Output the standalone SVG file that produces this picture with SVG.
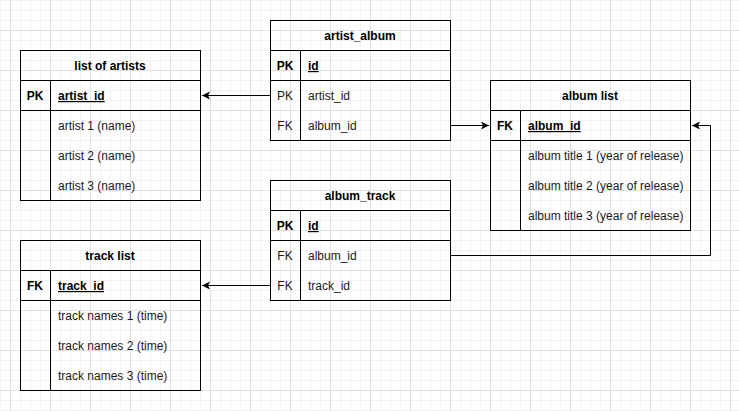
<svg xmlns="http://www.w3.org/2000/svg" width="739" height="411" viewBox="0 0 739 411">
<style>
  .box{fill:none;stroke:#000;stroke-width:1}
  .t{font-family:"Liberation Sans",Arial,sans-serif;font-size:12px;fill:#1a1a1a}
  .title{font-weight:bold;text-anchor:middle;fill:#000}
  .key{text-anchor:middle}
  .b{font-weight:bold;fill:#000}
  .u{text-decoration:underline}
  .edge{fill:none;stroke:#000;stroke-width:1}
</style>
<defs>
  <pattern id="minor" width="10" height="10" patternUnits="userSpaceOnUse">
    <path d="M0.5 0V10M0 0.5H10" fill="none" stroke="#f2f2f2" stroke-width="1"/>
  </pattern>
  <pattern id="major" x="10" y="30" width="40" height="40" patternUnits="userSpaceOnUse">
    <path d="M0.5 0V40M0 0.5H40" fill="none" stroke="#e0e0e0" stroke-width="1"/>
  </pattern>
  <marker id="arr" markerWidth="10" markerHeight="10" refX="8" refY="4" orient="auto" markerUnits="userSpaceOnUse">
    <path d="M0 0L8 4L0 8L2 4Z" fill="#000"/>
  </marker>
</defs>
<rect width="739" height="411" fill="#fff"/>
<rect width="739" height="411" fill="url(#minor)"/>
<rect width="739" height="411" fill="url(#major)"/>

<g id="connectors">
  <path class="edge" d="M270 95.5H202" marker-end="url(#arr)"/>
  <path class="edge" d="M450 125.5H489" marker-end="url(#arr)"/>
  <path class="edge" d="M450 255.5H710.5V125.5H692" marker-end="url(#arr)"/>
  <path class="edge" d="M270 285.5H202" marker-end="url(#arr)"/>
</g>

<g id="list-of-artists">
  <rect class="box" x="20.5" y="50.5" width="180" height="150"/>
  <path class="box" d="M20.5 80.5H200.5M20.5 110.5H200.5M50.5 80.5V200.5"/>
  <text class="t title" x="110" y="70">list of artists</text>
  <text class="t key b" x="35" y="100">PK</text>
  <text class="t b u" x="58" y="100">artist_id</text>
  <text class="t" x="58" y="160" dy="-30">artist 1 (name)</text>
  <text class="t" x="58" y="160">artist 2 (name)</text>
  <text class="t" x="58" y="190">artist 3 (name)</text>
</g>

<g id="artist-album">
  <rect class="box" x="270.5" y="20.5" width="180" height="120"/>
  <path class="box" d="M270.5 50.5H450.5M270.5 80.5H450.5M300.5 50.5V140.5"/>
  <text class="t title" x="360" y="40">artist_album</text>
  <text class="t key b" x="285" y="70">PK</text>
  <text class="t b u" x="308" y="70">id</text>
  <text class="t key" x="285" y="100">PK</text>
  <text class="t" x="308" y="100">artist_id</text>
  <text class="t key" x="285" y="130">FK</text>
  <text class="t" x="308" y="130">album_id</text>
</g>

<g id="album-list">
  <rect class="box" x="490.5" y="80.5" width="200" height="150"/>
  <path class="box" d="M490.5 110.5H690.5M490.5 140.5H690.5M520.5 110.5V230.5"/>
  <text class="t title" x="590" y="100">album list</text>
  <text class="t key b" x="505" y="130">FK</text>
  <text class="t b u" x="528" y="130">album_id</text>
  <text class="t" x="528" y="160">album title 1 (year of release)</text>
  <text class="t" x="528" y="190">album title 2 (year of release)</text>
  <text class="t" x="528" y="220">album title 3 (year of release)</text>
</g>

<g id="album-track">
  <rect class="box" x="270.5" y="180.5" width="180" height="120"/>
  <path class="box" d="M270.5 210.5H450.5M270.5 240.5H450.5M300.5 210.5V300.5"/>
  <text class="t title" x="360" y="200">album_track</text>
  <text class="t key b" x="285" y="230">PK</text>
  <text class="t b u" x="308" y="230">id</text>
  <text class="t key" x="285" y="260">FK</text>
  <text class="t" x="308" y="260">album_id</text>
  <text class="t key" x="285" y="290">FK</text>
  <text class="t" x="308" y="290">track_id</text>
</g>

<g id="track-list">
  <rect class="box" x="20.5" y="240.5" width="180" height="150"/>
  <path class="box" d="M20.5 270.5H200.5M20.5 300.5H200.5M50.5 270.5V390.5"/>
  <text class="t title" x="110" y="260">track list</text>
  <text class="t key b" x="35" y="290">FK</text>
  <text class="t b u" x="58" y="290">track_id</text>
  <text class="t" x="58" y="320">track names 1 (time)</text>
  <text class="t" x="58" y="350">track names 2 (time)</text>
  <text class="t" x="58" y="380">track names 3 (time)</text>
</g>
</svg>
